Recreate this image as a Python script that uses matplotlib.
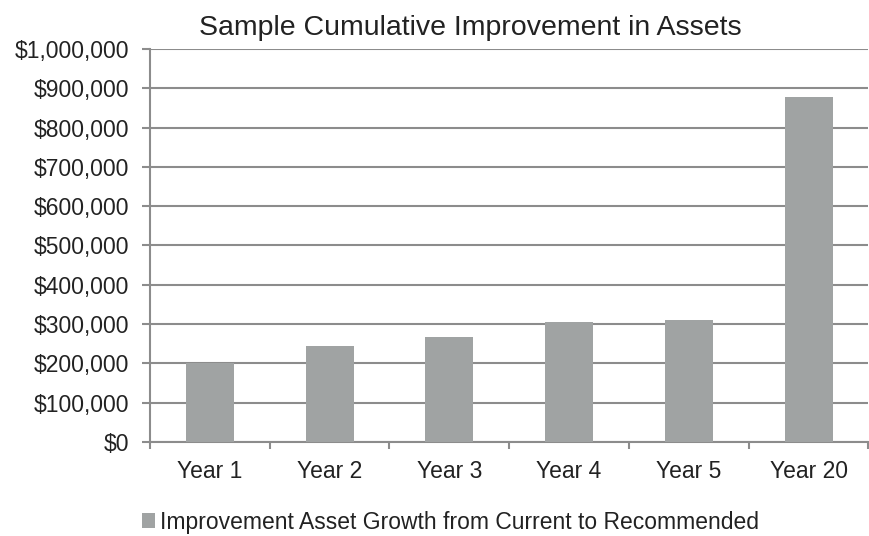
import matplotlib.pyplot as plt
from matplotlib.ticker import FuncFormatter, MultipleLocator

plt.rcParams['font.family'] = ['Liberation Sans', 'DejaVu Sans']

years = ['Year 1', 'Year 2', 'Year 3', 'Year 4', 'Year 5', 'Year 20']
growth = [200000, 245000, 268000, 306000, 311000, 877000]

bar_color = '#a0a3a3'
grid_color = '#8c8c8c'
text_color = '#222222'

fig = plt.figure(figsize=(8.69, 5.36), dpi=100)
ax = fig.add_axes([0.1726, 0.1754, 0.8268, 0.7332])

ax.bar(range(len(years)), growth, width=0.4, color=bar_color,
       label='Improvement Asset Growth from Current to Recommended', zorder=3)

ax.set_xlim(-0.5, len(years) - 0.5)
ax.set_ylim(0, 1000000)
ax.yaxis.set_major_locator(MultipleLocator(100000))
ax.yaxis.set_major_formatter(FuncFormatter(lambda v, p: f'${v:,.0f}'))
ax.set_xticks(range(len(years)))
ax.set_xticklabels(years)
# category boundary ticks like the spreadsheet style
ax.set_xticks([i - 0.5 for i in range(len(years) + 1)], minor=True)
ax.tick_params(axis='x', which='major', length=0, pad=13, labelsize=16.5, labelcolor=text_color)
ax.tick_params(axis='x', which='minor', length=5, width=1.5, color=grid_color, direction='out')
ax.tick_params(axis='y', length=6, width=1.5, color=grid_color, labelsize=16.5, pad=9,
               labelcolor=text_color)

ax.grid(axis='y', color=grid_color, linewidth=1.5, zorder=0)
for s in ['top', 'right']:
    ax.spines[s].set_visible(False)
for s in ['left', 'bottom']:
    ax.spines[s].set_color(grid_color)
    ax.spines[s].set_linewidth(1.5)

ax.set_title('Sample Cumulative Improvement in Assets', fontsize=20.5, pad=10, x=0.446,
             color=text_color)

fig.legend(loc='center', bbox_to_anchor=(0.518, 0.026), frameon=False, fontsize=16.5,
           handlelength=0.57, handleheight=0.57, handletextpad=0.22, labelcolor=text_color,
           borderpad=0)

plt.savefig('out.png', dpi=100)
